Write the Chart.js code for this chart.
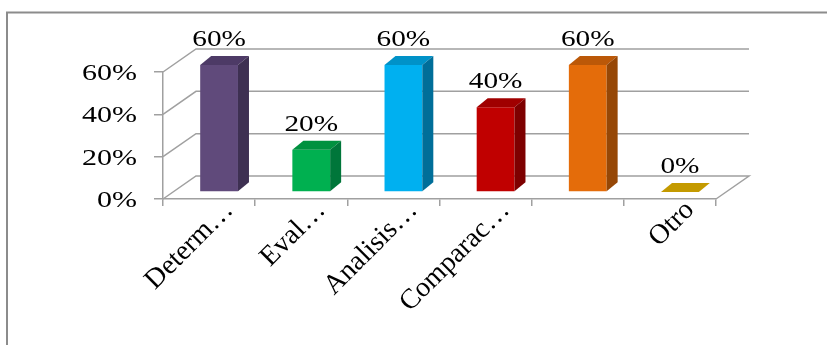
<!DOCTYPE html>
<html lang="es">
<head>
    <meta charset="UTF-8">
    <title>Gráfico de barras</title>
    <script src="https://cdn.jsdelivr.net/npm/chart.js"></script>
    <style>
        body { margin: 0; background: #fff; }
        .chartBox { width: 827px; height: 345px; }
    </style>
</head>
<body>
    <div class="chartBox">
        <canvas id="barChart"></canvas>
    </div>
    <script>
        // categories and percentages
        var categories = ['Determ…', 'Eval…', 'Analisis…', 'Comparac…', '', 'Otro'];
        var percentages = [60, 20, 60, 40, 60, 0];
        var yTicks = [0, 20, 40, 60];

        // face colours for each bar: front, top, side
        var frontColors = ['#604A7B', '#00B050', '#00B0F0', '#C00000', '#E46C0A', '#C49A00'];
        var topColors = ['#4D3A66', '#00913F', '#0092C8', '#A00000', '#BB5808', '#C49A00'];
        var sideColors = ['#3E3052', '#00763A', '#006E99', '#7E0000', '#964706', '#8F7000'];

        var serif = '"Liberation Serif", "Times New Roman", serif';
        var wall = { dx: 33, dy: -23 };     // depth of the floor / back wall
        var shift = { dx: 10, dy: -7 };     // bars sit a bit behind the front edge
        var box = { dx: 11, dy: -9 };       // depth of each bar

        var gridColor = '#a0a0a0';

        var threeD = {
            id: 'threeD',
            beforeDraw: function (chart) {
                var ctx = chart.ctx;
                ctx.save();
                ctx.fillStyle = '#fff';
                ctx.fillRect(0, 0, chart.width, chart.height);
                ctx.strokeStyle = '#8c8c8c';
                ctx.lineWidth = 2;
                ctx.strokeRect(7, 12.5, 900, 400);
                ctx.restore();
            },
            beforeDatasetsDraw: function (chart) {
                var ctx = chart.ctx;
                var area = chart.chartArea;
                var y = chart.scales.y;
                ctx.save();
                ctx.strokeStyle = gridColor;
                ctx.lineWidth = 1.5;
                yTicks.forEach(function (v) {
                    var py = y.getPixelForValue(v);
                    ctx.beginPath();
                    ctx.moveTo(area.left, py);
                    ctx.lineTo(area.left + wall.dx, py + wall.dy);
                    ctx.lineTo(area.right + wall.dx, py + wall.dy);
                    if (v === 0) ctx.lineTo(area.right, py);
                    ctx.stroke();
                });
                ctx.restore();
                // front faces are drawn by Chart.js, pushed back into the box
                ctx.save();
                ctx.translate(shift.dx, shift.dy);
            },
            afterDatasetsDraw: function (chart) {
                var ctx = chart.ctx;
                ctx.restore();
                var bars = chart.getDatasetMeta(0).data;
                ctx.save();
                bars.forEach(function (el, i) {
                    var L = el.x - el.width / 2 + shift.dx;
                    var R = el.x + el.width / 2 + shift.dx;
                    var T = el.y + shift.dy;
                    var B = el.base + shift.dy;
                    // top
                    ctx.fillStyle = topColors[i];
                    ctx.beginPath();
                    ctx.moveTo(L, T);
                    ctx.lineTo(R, T);
                    ctx.lineTo(R + box.dx, T + box.dy);
                    ctx.lineTo(L + box.dx, T + box.dy);
                    ctx.closePath();
                    ctx.fill();
                    // side
                    if (B - T > 0.5) {
                        ctx.fillStyle = sideColors[i];
                        ctx.beginPath();
                        ctx.moveTo(R, T);
                        ctx.lineTo(R + box.dx, T + box.dy);
                        ctx.lineTo(R + box.dx, B + box.dy);
                        ctx.lineTo(R, B);
                        ctx.closePath();
                        ctx.fill();
                    }
                    // value label
                    ctx.save();
                    ctx.translate(el.x + shift.dx, T - 19);
                    ctx.scale(1.22, 1);
                    ctx.fillStyle = '#000';
                    ctx.font = '24px ' + serif;
                    ctx.textAlign = 'center';
                    ctx.textBaseline = 'alphabetic';
                    ctx.fillText(percentages[i] + '%', 0, 0);
                    ctx.restore();
                });

                // y tick labels, a little wide like the rest of the text
                var y = chart.scales.y;
                y.ticks.forEach(function (t) {
                    var py = y.getPixelForValue(t.value);
                    ctx.save();
                    ctx.translate(137, py + 8);
                    ctx.scale(1.25, 1);
                    ctx.fillStyle = '#000';
                    ctx.font = '24px ' + serif;
                    ctx.textAlign = 'right';
                    ctx.textBaseline = 'alphabetic';
                    ctx.fillText(t.value + '%', 0, 0);
                    ctx.restore();
                });
                ctx.restore();
            }
        };

        var ctx = document.getElementById('barChart').getContext('2d');
        var chart = new Chart(ctx, {
            type: 'bar',
            data: {
                labels: categories,
                datasets: [{
                    data: percentages,
                    backgroundColor: frontColors,
                    borderWidth: 0,
                    categoryPercentage: 1,
                    barPercentage: 0.41,
                    clip: false
                }]
            },
            options: {
                responsive: true,
                maintainAspectRatio: false,
                animation: false,
                layout: { padding: { left: 0, top: 72, right: 111, bottom: 0 } },
                plugins: {
                    legend: { display: false },
                    tooltip: { enabled: false }
                },
                scales: {
                    x: {
                        afterFit: function (scale) { scale.height = 146; },
                        grid: {
                            offset: true,
                            drawOnChartArea: false,
                            drawTicks: true,
                            tickLength: 7,
                            color: gridColor,
                            lineWidth: 1.5
                        },
                        border: { color: gridColor, width: 1.5 },
                        ticks: {
                            autoSkip: false,
                            minRotation: 45,
                            maxRotation: 45,
                            labelOffset: 20,
                            padding: -12,
                            color: '#000',
                            font: { family: serif, size: 28 }
                        }
                    },
                    y: {
                        min: 0,
                        max: 60,
                        afterFit: function (scale) { scale.width = 163; },
                        afterBuildTicks: function (scale) {
                            scale.ticks = yTicks.map(function (v) { return { value: v }; });
                        },
                        grid: {
                            drawOnChartArea: false,
                            drawTicks: true,
                            tickLength: 9,
                            color: gridColor,
                            lineWidth: 1.5
                        },
                        border: { color: gridColor, width: 1.5 },
                        ticks: { display: false }
                    }
                }
            },
            plugins: [threeD]
        });
    </script>
</body>
</html>
